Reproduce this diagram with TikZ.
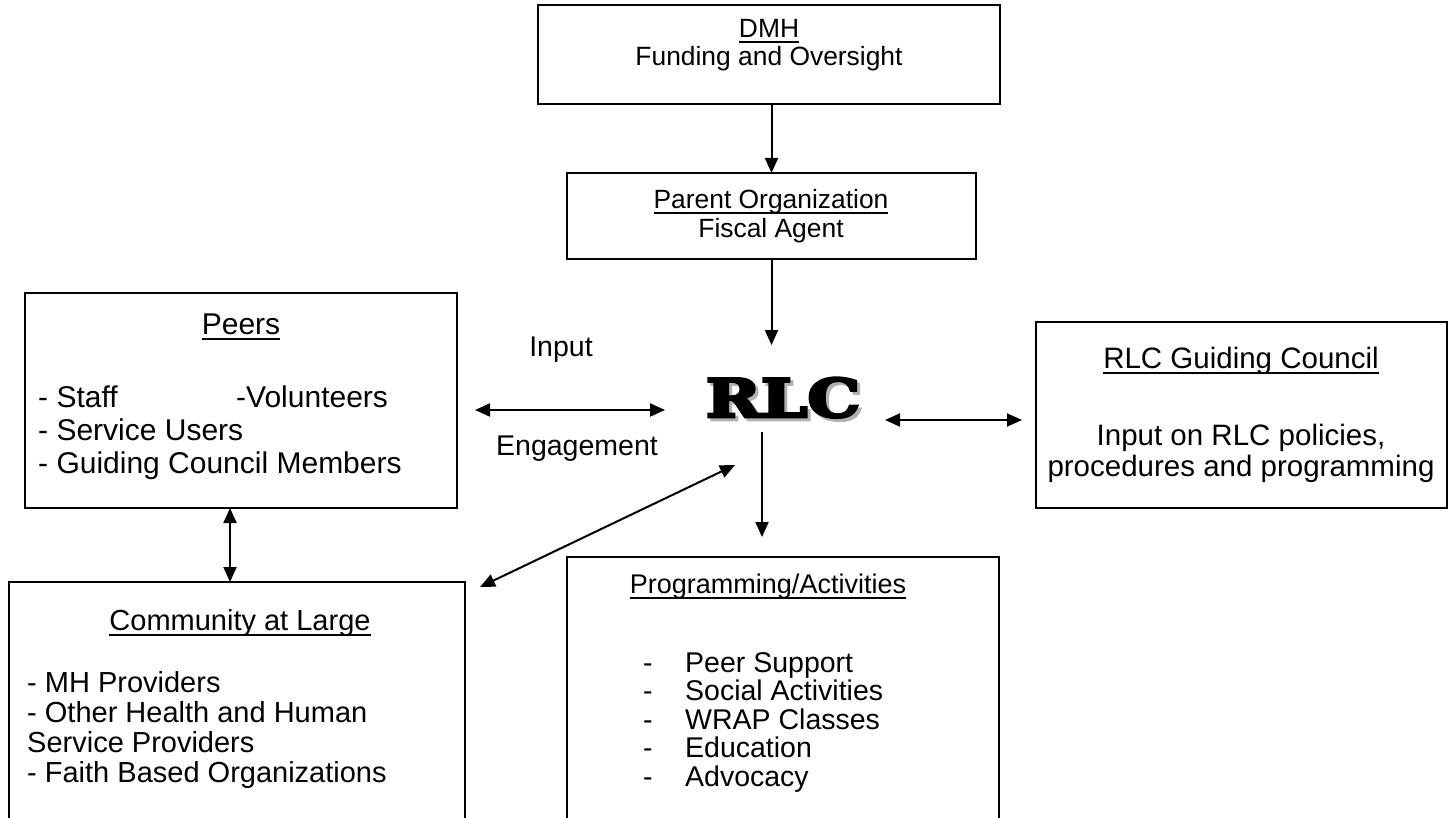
\documentclass[tikz,border=0pt]{standalone}
\usepackage{fontspec}
\usepackage{graphicx}
\setmainfont{Liberation Sans}
\newfontfamily\rlcfont{DejaVu Serif}[BoldFeatures={FakeBold=5}]
\usetikzlibrary{arrows.meta}
\newcommand{\undl}[1]{\setbox0\hbox{#1}\rlap{\vrule height -3.5pt depth 5.5pt width \wd0}\box0}
\begin{document}
\begin{tikzpicture}[x=1pt, y=-1pt, >={Triangle[length=15pt,width=13pt]},
  box/.style={draw, line width=2pt, anchor=north west, inner sep=0pt, outer sep=0pt},
  txt/.style={font=\fontsize{26.4}{28.5}\selectfont, inner sep=0pt, anchor=base},
  peertxt/.style={txt, font=\fontsize{30}{33}\selectfont},
  counciltxt/.style={txt, font=\fontsize{29.5}{31}\selectfont},
  commtxt/.style={txt, font=\fontsize{29}{30}\selectfont},
  progtxt/.style={txt, font=\fontsize{28.5}{28.5}\selectfont},
  big/.style={font=\rlcfont\bfseries\fontsize{53}{53}\selectfont, inner sep=0pt, anchor=base},
  arr/.style={->, line width=2pt}, dbl/.style={<->, line width=2pt}]
\useasboundingbox (0,0) rectangle (1455,818);
\node[box, minimum width=462pt, minimum height=99pt] (dmh) at (538,5) {};
\node[box, minimum width=409pt, minimum height=86pt] (parent) at (567,173) {};
\node[box, minimum width=432pt, minimum height=215pt] (peers) at (25,293) {};
\node[box, minimum width=411pt, minimum height=186pt] (council) at (1036,322) {};
\node[box, minimum width=456pt, minimum height=260pt] (comm) at (9,582) {};
\node[box, minimum width=432pt, minimum height=285pt] (prog) at (567,557) {};
\node[txt] (dmhtitle) at (769,38) {\undl{DMH}};
\node[txt] (dmhrole) at (769,66) {Funding and Oversight};
\node[txt] (partitle) at (771,209) {\undl{Parent Organization}};
\node[txt] (parrole) at (771,238) {Fiscal Agent};
\node[peertxt] (peertitle) at (241,334) {\undl{Peers}};
\node[peertxt, anchor=base west, align=left] (peerlist) at (38,473)
  {\makebox[198pt][l]{- Staff}-Volunteers\\- Service Users\\- Guiding Council Members};
\node[counciltxt] (counciltitle) at (1241,368) {\undl{RLC Guiding Council}};
\node[counciltxt, align=center] (councilrole) at (1241,476) {Input on RLC policies,\\procedures and programming};
\node[commtxt] (commtitle) at (240,630) {\undl{Community at Large}};
\node[commtxt, anchor=base west, align=left] (commlist) at (27,782)
  {- MH Providers\\- Other Health and Human\\Service Providers\\- Faith Based Organizations};
\node[txt, font=\fontsize{27}{28.5}\selectfont] (progtitle) at (768,593) {\undl{Programming/Activities}};
\node[progtxt, anchor=base west, align=left] (proglist) at (643,786)
  {\makebox[42pt][l]{-}Peer Support\\\makebox[42pt][l]{-}Social Activities\\\makebox[42pt][l]{-}WRAP Classes\\\makebox[42pt][l]{-}Education\\\makebox[42pt][l]{-}Advocacy};
\node[commtxt, font=\fontsize{28.5}{30}\selectfont] (input) at (561,356) {Input};
\node[commtxt, font=\fontsize{28.5}{30}\selectfont] (engage) at (577,455) {Engagement};
\node[big, text=black!30] (rlcshade) at (786,420) {\scalebox{1.25}[1]{RLC}};
\node[big] (rlctext) at (783,417) {\scalebox{1.25}[1]{RLC}};
\node[minimum width=220pt, minimum height=87pt, inner sep=0pt, outer sep=0pt] (rlc) at (775,388.5) {};
\draw[arr] (parent.north |- dmh.south) -- (parent.north);
\draw[arr] (parent.south) -- (parent.south |- rlc.north);
\draw[dbl] ([yshift=-21.5pt]rlc.west) -- ++(-190,0);
\draw[dbl] ([yshift=-31.5pt]rlc.east) -- ++(137,0);
\draw[arr, shorten >=20pt] ([xshift=-13pt]rlc.south) -- ([xshift=-13pt]rlc.south |- prog.north);
\draw[dbl] ([xshift=-11pt]peers.south) -- ([xshift=-11pt]peers.south |- comm.north);
\draw[dbl] ([shift={(15pt,-5pt)}]comm.north east) -- ([shift={(-40pt,-33pt)}]rlc.south);
\end{tikzpicture}
\end{document}
